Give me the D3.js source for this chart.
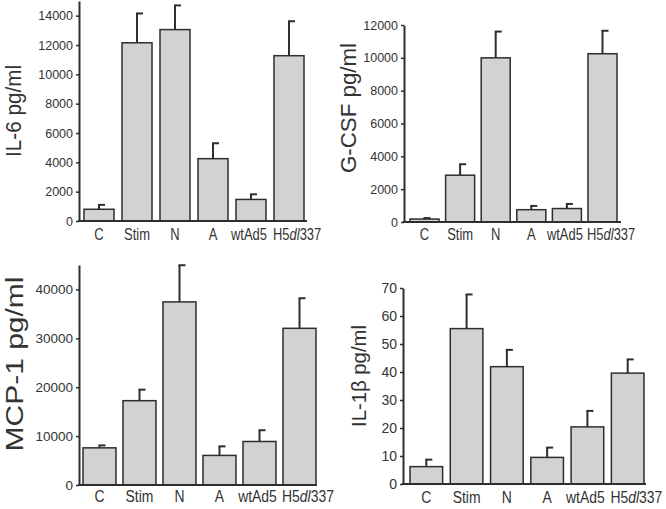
<!DOCTYPE html>
<html>
<head>
<meta charset="utf-8">
<script src="https://cdn.jsdelivr.net/npm/d3@7"></script>
<style>
  html, body { margin: 0; padding: 0; background: #fff; }
  svg { display: block; }
  text { font-family: "Liberation Sans", Arial, sans-serif; fill: #333; }
</style>
</head>
<body>
<svg id="chart" width="666" height="509"></svg>
<script>
// ---- data ----
const categories = ["C", "Stim", "N", "A", "wtAd5", "H5dl337"];

const il6Means = [800, 12150, 13050, 4250, 1470, 11270];
const il6Err   = [300, 2000, 1650, 1050, 350, 2350];
const il6Ticks = [0, 2000, 4000, 6000, 8000, 10000, 12000, 14000];

const gcsfMeans = [180, 2850, 10000, 750, 820, 10250];
const gcsfErr   = [60, 670, 1600, 230, 280, 1400];
const gcsfTicks = [0, 2000, 4000, 6000, 8000, 10000, 12000];

const mcp1Means = [7600, 17250, 37450, 6050, 8900, 32050];
const mcp1Err   = [500, 2250, 7500, 1850, 2300, 6150];
const mcp1Ticks = [0, 10000, 20000, 30000, 40000];

const il1bMeans = [6.2, 55.5, 41.9, 9.5, 20.4, 39.6];
const il1bErr   = [2.5, 12.2, 6.0, 3.5, 5.7, 4.9];
const il1bTicks = [0, 10, 20, 30, 40, 50, 60, 70];

const titles = ["IL-6 pg/ml", "G-CSF pg/ml", "MCP-1 pg/ml", "IL-1\u03B2 pg/ml"];

// ---- layout ----
const panels = [
  { means: il6Means, err: il6Err, ticks: il6Ticks, max: 15000, title: titles[0],
    x0: 79, x1: 307, yTop: 1, y0: 221, b0: 84, b1: 304, pad: 0.21,
    tickFs: 12.5, labFs: 16, labSx: 0.81, labY: 240,
    tX: 21, tY: 111, tLen: 92, tFs: 21.5 },
  { means: gcsfMeans, err: gcsfErr, ticks: gcsfTicks, max: 12000, title: titles[1],
    x0: 404, x1: 621, yTop: 25, y0: 222, b0: 410, b1: 617, pad: 0.185,
    tickFs: 12.5, labFs: 16, labSx: 0.81, labY: 240,
    tX: 356, tY: 108, tLen: 130, tFs: 22.5 },
  { means: mcp1Means, err: mcp1Err, ticks: mcp1Ticks, max: 45000, title: titles[2],
    x0: 79, x1: 317, yTop: 265, y0: 485, b0: 83, b1: 316, pad: 0.175,
    tickFs: 13.5, labFs: 17, labSx: 0.82, labY: 502,
    tX: 23, tY: 364, tLen: 175, tFs: 23 },
  { means: il1bMeans, err: il1bErr, ticks: il1bTicks, max: 70, title: titles[3],
    x0: 403, x1: 646, yTop: 288, y0: 484, b0: 410, b1: 644, pad: 0.19,
    tickFs: 14, labFs: 17, labSx: 0.82, labY: 503,
    tX: 366, tY: 376, tLen: 102, tFs: 19.5 }
];

const svg = d3.select("#chart");
const ink = "#2e2e2e";
const fill = "#d2d2d2";

panels.forEach(p => {
  const g = svg.append("g");
  const x = d3.scaleBand().domain(categories).range([p.b0, p.b1])
    .paddingInner(p.pad).paddingOuter(0);
  const y = d3.scaleLinear().domain([0, p.max]).range([p.y0, p.yTop]);

  const rows = categories.map((c, i) => ({ c, v: p.means[i], e: p.err[i] }));

  // error bars (upper only)
  const eb = g.append("g").attr("stroke", ink).attr("stroke-width", 2);
  rows.forEach(d => {
    const cx = x(d.c) + x.bandwidth() / 2;
    eb.append("line").attr("x1", cx).attr("x2", cx)
      .attr("y1", y(d.v)).attr("y2", y(d.v + d.e));
    eb.append("line").attr("x1", cx - 1).attr("x2", cx + 6)
      .attr("y1", y(d.v + d.e)).attr("y2", y(d.v + d.e));
  });

  // bars
  g.append("g").selectAll("rect").data(rows).join("rect")
    .attr("x", d => x(d.c))
    .attr("y", d => y(d.v))
    .attr("width", x.bandwidth())
    .attr("height", d => y(0) - y(d.v))
    .attr("fill", fill)
    .attr("stroke", ink)
    .attr("stroke-width", 1.5);

  // y axis
  const ya = g.append("g").attr("transform", `translate(${p.x0},0)`)
    .call(d3.axisLeft(y).tickValues(p.ticks).tickSize(3).tickSizeOuter(0)
      .tickPadding(3).tickFormat(d3.format("d")));
  ya.select(".domain").attr("stroke", ink).attr("stroke-width", 2);
  ya.selectAll(".tick line").attr("stroke", ink).attr("stroke-width", 1.5);
  ya.selectAll(".tick text").attr("font-size", p.tickFs)
    .attr("font-family", "Liberation Sans, Arial, sans-serif").attr("fill", "#333");

  // x axis line
  g.append("line").attr("x1", p.x0 - 1).attr("x2", p.x1)
    .attr("y1", p.y0).attr("y2", p.y0)
    .attr("stroke", ink).attr("stroke-width", 2);

  // x labels
  categories.forEach(c => {
    const last = c === "H5dl337";
    const lx = last ? x(c) - 1 : x(c) + x.bandwidth() / 2 - (c === "wtAd5" ? 2 : 0);
    const t = g.append("text")
      .attr("transform", `translate(${lx},${p.labY}) scale(${p.labSx},1)`)
      .attr("text-anchor", last ? "start" : "middle")
      .attr("font-size", p.labFs);
    if (last) {
      t.append("tspan").text("H5");
      t.append("tspan").attr("font-style", "italic").text("dl");
      t.append("tspan").text("337");
    } else {
      t.text(c);
    }
  });

  // title
  g.append("text")
    .attr("transform", `translate(${p.tX},${p.tY}) rotate(-90)`)
    .attr("text-anchor", "middle")
    .attr("font-size", p.tFs)
    .attr("textLength", p.tLen)
    .attr("lengthAdjust", "spacingAndGlyphs")
    .text(p.title);
});
</script>
</body>
</html>
